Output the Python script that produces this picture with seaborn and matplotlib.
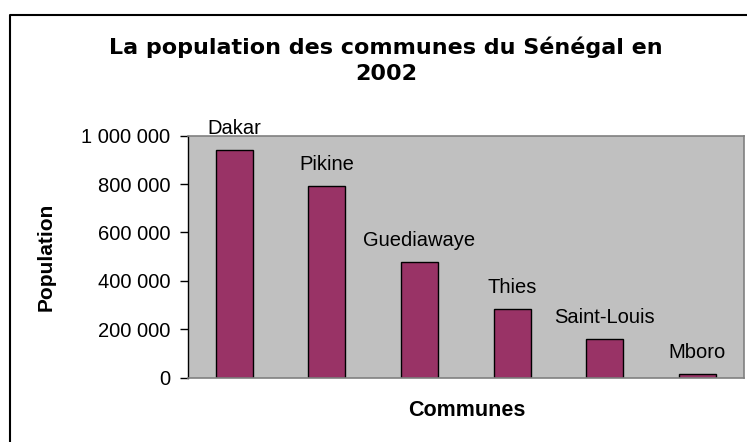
import matplotlib
matplotlib.use("Agg")
import matplotlib.pyplot as plt
from matplotlib.lines import Line2D
from matplotlib.ticker import FuncFormatter
import seaborn as sns

communes = ["Dakar", "Pikine", "Guediawaye", "Thies", "Saint-Louis", "Mboro"]
population = [941000, 792000, 479000, 283000, 159000, 14000]
y_ticks = [0, 200000, 400000, 600000, 800000, 1000000]

W, H = 747, 442
sns.set_style("white")
plt.rcParams["font.family"] = ["Liberation Sans", "DejaVu Sans"]
plt.rcParams["text.color"] = "black"

fig = plt.figure(figsize=(W / 100, H / 100), dpi=100)
ax = fig.add_axes([188 / W, 1 - 377.7 / H, (743.7 - 188) / W, (377.7 - 135.7) / H])
ax.set_facecolor("#C0C0C0")

sns.barplot(x=communes, y=population, color="#993366", saturation=1,
            edgecolor="black", linewidth=1, width=0.4, ax=ax)

for i, (name, val) in enumerate(zip(communes, population)):
    ax.annotate(name, (i, val), xytext=(0, 11.5), textcoords="offset points",
                ha="center", va="baseline", fontsize=14.5, color="black",
                annotation_clip=False)

ax.set_xlim(-0.5, len(communes) - 0.5)
ax.set_ylim(0, 1000000)
ax.set_yticks(y_ticks)
ax.yaxis.set_major_formatter(FuncFormatter(lambda v, p: f"{int(v):,}".replace(",", " ")))
ax.set_xticks([])
ax.set_xlabel("")
ax.set_ylabel("")
ax.tick_params(axis="y", direction="out", length=5.8, width=1, pad=7,
               labelsize=14.5, colors="black", left=True)

for side in ["top", "right", "bottom"]:
    ax.spines[side].set_color("#808080")
    ax.spines[side].set_linewidth(1.2)
ax.spines["left"].set_color("black")
ax.spines["left"].set_linewidth(1)

fig.text(386 / W, 1 - 60 / H, "La population des communes du Sénégal en\n2002",
         ha="center", va="center", fontsize=16, fontweight="bold",
         family="DejaVu Sans", linespacing=1.4, color="black")
fig.text(467 / W, 1 - 411 / H, "Communes", ha="center", va="center",
         fontsize=15.5, fontweight="bold", color="black")
fig.text(46 / W, 1 - 256.7 / H, "Population", ha="center", va="center",
         rotation=90, fontsize=15, fontweight="bold", color="black")

# outer chart border (cropped on the right and bottom)
fig.add_artist(Line2D([10 / W, 10 / W, 1], [0, 1 - 15 / H, 1 - 15 / H],
                      transform=fig.transFigure, color="black", lw=1.5))

fig.savefig("out.png", dpi=100)
